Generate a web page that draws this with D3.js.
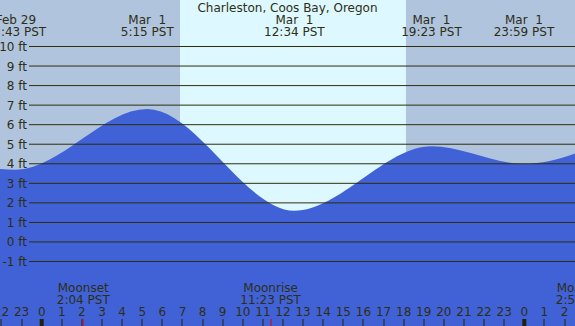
<!DOCTYPE html>
<html>
<head>
<meta charset="utf-8">
<script src="https://d3js.org/d3.v7.min.js"></script>
<style>
  body { margin: 0; background: #b0c4de; }
  svg { display: block; font-family: "DejaVu Sans", sans-serif; font-size: 12px; }
  text { white-space: pre; fill: #2e2e14; }
</style>
</head>
<body>
<div id="chart"></div>
<script>
// hours are counted from Mar 1 00:00 PST
var tideHours   = [-7.5, -1.283, 5.25, 12.567, 19.383, 23.983, 30];
var tideHeights = [5.2, 3.7, 6.8, 1.6, 4.9, 4.0, 6.3];
var tideDates   = ["", "Feb 29", "Mar  1", "Mar  1", "Mar  1", "Mar  1", ""];
var tideClock   = ["", "22:43 PST", "5:15 PST", "12:34 PST", "19:23 PST", "23:59 PST", ""];

var sunHours = [6.877, 18.115]; // sunrise, sunset

var moonHours  = [2.067, 11.383, 26.883];
var moonNames  = ["Moonset", "Moonrise", "Moonset"];
var moonClock  = ["2:04 PST", "11:23 PST", "2:53 PST"];

var feetTicks = [10, 9, 8, 7, 6, 5, 4, 3, 2, 1, 0, -1];
var hourTicks = d3.range(-2, 27);

var title = "Charleston, Coos Bay, Oregon";

var W = 575, H = 326;

var x = d3.scaleLinear().domain([0, 24]).range([41.7, 524.3]);
var y = d3.scaleLinear().domain([-1, 10]).range([261.5, 46.5]);

var svg = d3.select("#chart").append("svg")
    .attr("width", W)
    .attr("height", H);

// night background, then daylight band
svg.append("rect")
    .attr("width", W).attr("height", H)
    .attr("fill", "#b0c4de");
svg.append("rect")
    .attr("x", x(sunHours[0]))
    .attr("width", x(sunHours[1]) - x(sunHours[0]))
    .attr("y", 0).attr("height", H)
    .attr("fill", "#ddf8ff");

// water
var pts = tideHours.map(function(h, i) { return [h, tideHeights[i]]; });
svg.append("path")
    .datum(pts)
    .attr("fill", "#4162d6")
    .attr("d", d3.area()
        .curve(d3.curveMonotoneX)
        .x(function(d) { return x(d[0]); })
        .y0(H)
        .y1(function(d) { return y(d[1]); }));

// feet grid lines + labels
svg.selectAll(".grid")
    .data(feetTicks)
    .enter().append("line")
    .attr("x1", 29).attr("x2", W)
    .attr("y1", function(d) { return y(d); })
    .attr("y2", function(d) { return y(d); })
    .attr("stroke", "#2e2e0a")
    .attr("stroke-width", 1);

svg.selectAll(".flab")
    .data(feetTicks)
    .enter().append("text")
    .attr("x", 27)
    .attr("y", function(d) { return y(d) + 4.5; })
    .attr("text-anchor", "end")
    .text(function(d) { return d + " ft"; });

// title and tide extremes
svg.append("text")
    .attr("x", W / 2).attr("y", 12)
    .attr("text-anchor", "middle")
    .text(title);

tideHours.forEach(function(h, i) {
    if (!tideDates[i]) return;
    svg.append("text")
        .attr("x", x(h)).attr("y", 24)
        .attr("text-anchor", "middle")
        .text(tideDates[i]);
    svg.append("text")
        .attr("x", x(h)).attr("y", 36)
        .attr("text-anchor", "middle")
        .text(tideClock[i]);
});

// hour axis
svg.selectAll(".hlab")
    .data(hourTicks)
    .enter().append("text")
    .attr("x", function(d) { return x(d); })
    .attr("y", 316)
    .attr("text-anchor", "middle")
    .text(function(d) { return ((d % 24) + 24) % 24; });

svg.selectAll(".htick")
    .data(hourTicks)
    .enter().append("rect")
    .attr("x", function(d) { return d % 24 === 0 ? x(d) - 2 : Math.round(x(d)) - 0.5; })
    .attr("width", function(d) { return d % 24 === 0 ? 4 : 1; })
    .attr("y", 319).attr("height", 7)
    .attr("fill", "#22220a");

// moon events
moonHours.forEach(function(h, i) {
    svg.append("rect")
        .attr("x", Math.round(x(h)) - 0.5).attr("width", 1)
        .attr("y", 319).attr("height", 7)
        .attr("fill", "#e00000");
    svg.append("text")
        .attr("x", x(h)).attr("y", 292)
        .attr("text-anchor", "middle")
        .text(moonNames[i]);
    svg.append("text")
        .attr("x", x(h)).attr("y", 304)
        .attr("text-anchor", "middle")
        .text(moonClock[i]);
});
</script>
</body>
</html>
